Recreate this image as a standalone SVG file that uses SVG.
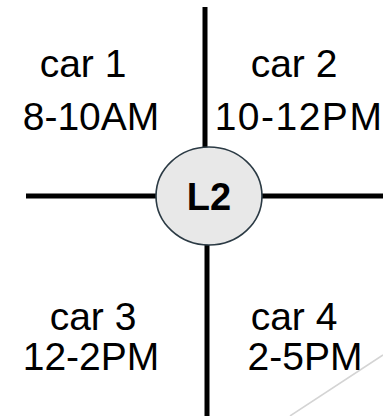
<svg xmlns="http://www.w3.org/2000/svg" width="383" height="416" viewBox="0 0 383 416">
<style>
.road{stroke:#000;stroke-width:5;fill:none}
.lbl{font-family:"Liberation Sans",Arial,sans-serif;font-size:39px;fill:#000;text-anchor:middle}
.node{fill:#e8e8e8;stroke:#2b3a44;stroke-width:1.6}
.ttl{font-family:"Liberation Sans",Arial,sans-serif;font-size:38px;font-weight:bold;fill:#000;text-anchor:middle}
</style>
<rect width="383" height="416" fill="#fff"/>
<line x1="290" y1="416" x2="383" y2="355" stroke="#d4d4d4" stroke-width="1.5"/>
<g id="connectors">
<line class="road" x1="205" y1="7" x2="205" y2="150"/>
<line class="road" x1="207" y1="242" x2="207" y2="416"/>
<line class="road" x1="26" y1="196" x2="157" y2="196"/>
<line class="road" x1="261" y1="196" x2="383" y2="196"/>
</g>
<g id="L2">
<ellipse class="node" cx="209" cy="196" rx="53" ry="49"/>
<text class="ttl" x="209" y="210">L2</text>
</g>
<g id="car1"><text class="lbl" x="83" y="77">car 1</text><text class="lbl" x="91" y="130">8-10AM</text></g>
<g id="car2"><text class="lbl" x="294" y="77">car 2</text><text class="lbl" x="299" y="130" letter-spacing="1.5">10-12PM</text></g>
<g id="car3"><text class="lbl" x="93" y="330">car 3</text><text class="lbl" x="91" y="370">12-2PM</text></g>
<g id="car4"><text class="lbl" x="294" y="330">car 4</text><text class="lbl" x="305" y="370">2-5PM</text></g>
</svg>
